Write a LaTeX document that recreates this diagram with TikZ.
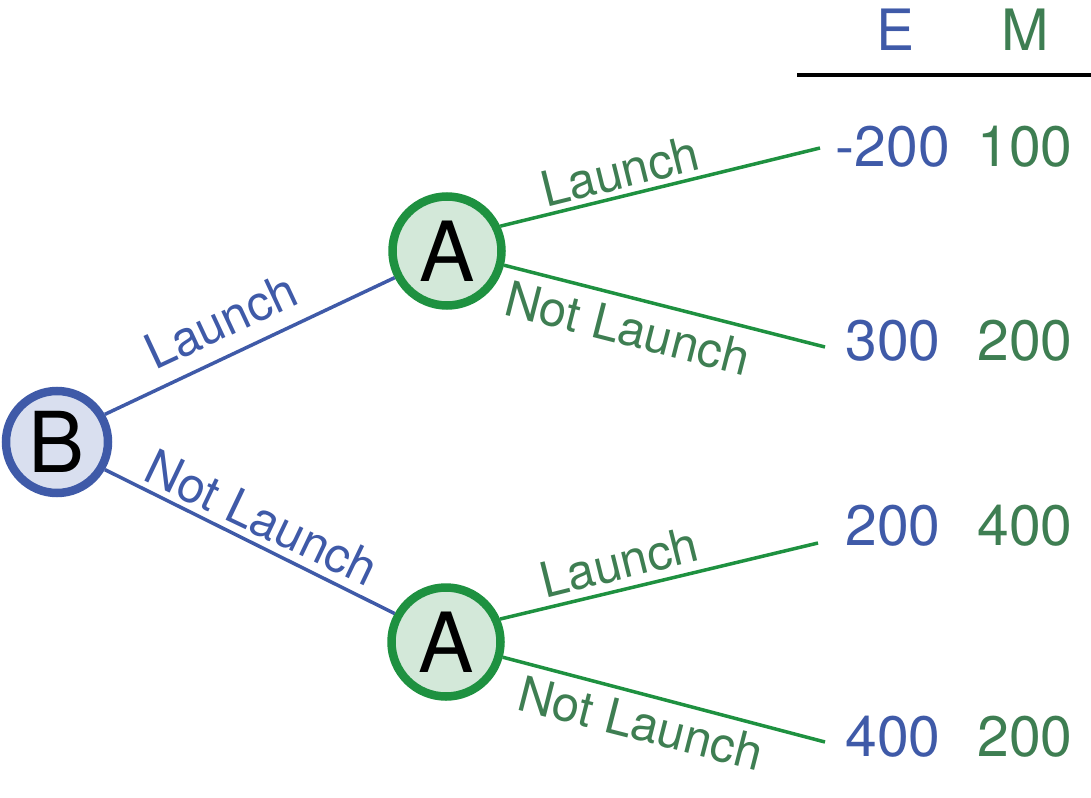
\documentclass[tikz,border=0pt]{standalone}
\usepackage{fontspec}
\setmainfont{TeX Gyre Heros}
\definecolor{eblue}{HTML}{3F5AA8}
\definecolor{bfill}{HTML}{D9DFEF}
\definecolor{gline}{HTML}{1E9140}
\definecolor{gtext}{HTML}{3E7E52}
\definecolor{afill}{HTML}{D3E8D9}
\begin{document}
\begin{tikzpicture}[x=1pt,y=-1pt,
  bnode/.style={circle,draw=eblue,fill=bfill,line width=8.5pt,minimum size=102pt,inner sep=0pt,font=\fontsize{84}{84}\selectfont},
  anode/.style={circle,draw=gline,fill=afill,line width=8.5pt,minimum size=109pt,inner sep=0pt,font=\fontsize{83}{83}\selectfont},
  bedge/.style={draw=eblue,line width=3.5pt},
  gedge/.style={draw=gline,line width=3.5pt},
  blab/.style={text=eblue,font=\fontsize{49}{49}\selectfont,inner sep=0pt},
  glab/.style={text=gtext,font=\fontsize{49}{49}\selectfont,inner sep=0pt},
  eval/.style={text=eblue,font=\fontsize{57}{57}\selectfont,inner sep=0pt},
  mval/.style={text=gtext,font=\fontsize{57}{57}\selectfont,inner sep=0pt}]
\useasboundingbox (0,0) rectangle (1091,797);
\coordinate (e1) at (820,148);
\coordinate (e2) at (825,347);
\coordinate (e3) at (818,543);
\coordinate (e4) at (825,742);
\node[bnode] (B) at (57,442) {B};
\node[anode] (A1) at (447,251) {A};
\node[anode] (A2) at (446,642) {A};
\draw[bedge] (B.30) -- (A1.207);
\draw[bedge] (B.-30) -- (A2.151);
\draw[gedge] (A1.25) -- (e1);
\draw[gedge] (A1.-14) -- (e2);
\draw[gedge] (A2.23.5) -- (e3);
\draw[gedge] (A2.-15.5) -- (e4);
\node[blab,rotate=25] (l1) at (221,321) {Launch};
\node[blab,rotate=-25.5] (l2) at (262,518) {Not Launch};
\node[glab,rotate=14] (l3) at (620,171) {Launch};
\node[glab,rotate=-14.3] (l4) at (628,328) {Not Launch};
\node[glab,rotate=14] (l5) at (619,562) {Launch};
\node[glab,rotate=-14.3] (l6) at (641,723) {Not Launch};
\node[eval] (hE) at (895,30) {E};
\node[mval] (hM) at (1025,30) {M};
\coordinate (r1) at (797,75);
\coordinate (r2) at (1091,75);
\draw[line width=4pt] (r1) -- (r2);
\node[eval] (v1) at (893,147) {-200};
\node[mval] (w1) at (1025,147) {100};
\node[eval] (v2) at (893,341) {300};
\node[mval] (w2) at (1025,341) {200};
\node[eval] (v3) at (893,526) {200};
\node[mval] (w3) at (1025,526) {400};
\node[eval] (v4) at (893,737) {400};
\node[mval] (w4) at (1025,737) {200};
\end{tikzpicture}
\end{document}
